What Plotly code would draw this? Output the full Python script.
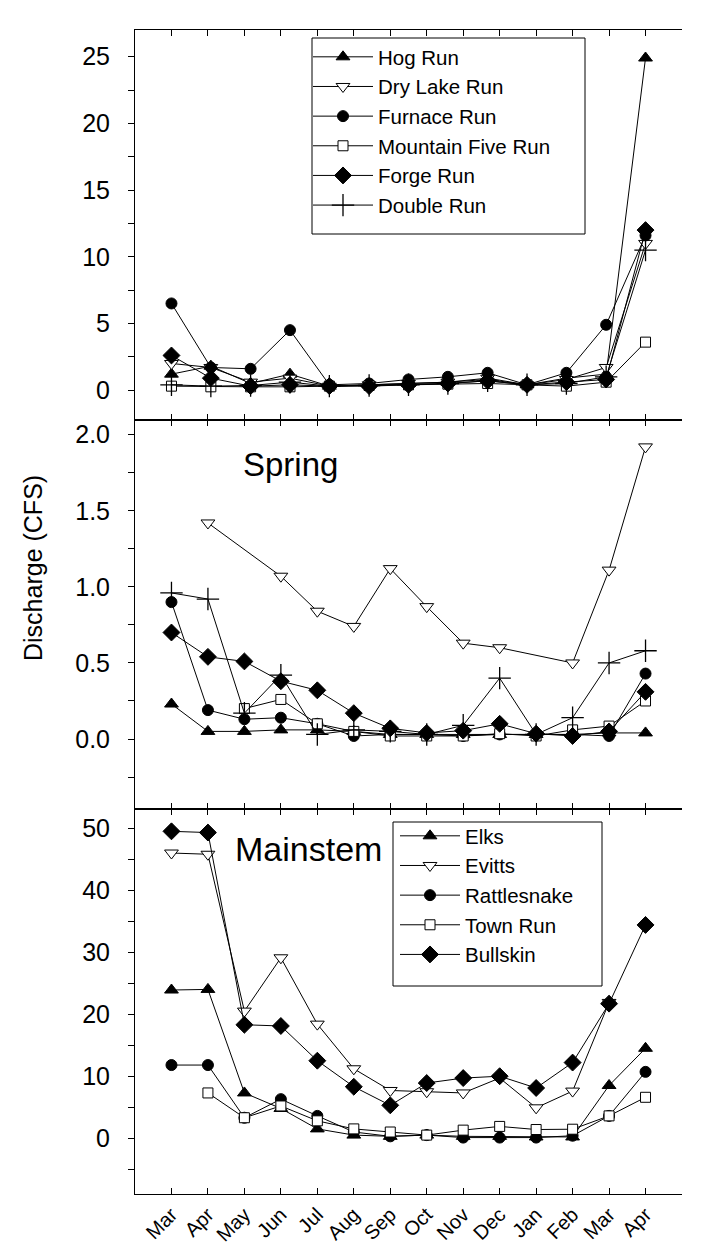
import plotly.graph_objects as go

# ---------------- data ----------------
months = ["Mar", "Apr", "May", "Jun", "Jul", "Aug", "Sep", "Oct", "Nov", "Dec", "Jan", "Feb", "Mar", "Apr"]
month_x = list(range(1, 15))

# tributary runs (top panel) sample positions (month index)
trib_x = [1.0, 2.08, 3.17, 4.25, 5.33, 6.42, 7.5, 8.58, 9.67, 10.75, 11.83, 12.92, 14.0]
hog_run = [1.2, 1.8, 0.5, 1.2, 0.3, 0.4, 0.5, 0.6, 0.8, 0.4, 0.9, 1.2, 24.9]
dry_lake_run = [2.0, 1.7, 0.6, 0.9, 0.3, 0.4, 0.5, 0.6, 0.9, 0.4, 0.8, 1.7, 11.0]
furnace_run = [6.5, 1.7, 1.6, 4.5, 0.4, 0.5, 0.8, 1.0, 1.3, 0.4, 1.3, 4.9, 11.6]
mountain_five_run = [0.3, 0.25, 0.25, 0.25, 0.3, 0.35, 0.4, 0.45, 0.5, 0.4, 0.3, 0.6, 3.6]
forge_run = [2.6, 0.9, 0.3, 0.4, 0.3, 0.3, 0.4, 0.5, 0.7, 0.4, 0.6, 0.8, 12.0]
double_run = [0.4, 0.3, 0.35, 0.6, 0.3, 0.35, 0.4, 0.5, 0.7, 0.4, 0.5, 1.0, 10.5]

# springs (middle panel)
spring_hog = [0.23, 0.05, 0.05, 0.06, 0.06, 0.05, 0.03, 0.03, 0.03, 0.03, 0.03, 0.03, 0.04, 0.04]
spring_dry_lake = [None, 1.42, None, 1.07, 0.84, 0.74, 1.12, 0.87, 0.63, 0.60, None, 0.50, 1.11, 1.92]
spring_furnace = [0.90, 0.19, 0.13, 0.14, 0.10, 0.02, 0.03, 0.03, 0.02, 0.03, 0.03, 0.03, 0.02, 0.43]
spring_mountain_five = [None, None, 0.20, 0.26, 0.10, 0.05, 0.02, 0.02, 0.02, 0.035, 0.02, 0.06, 0.085, 0.25]
spring_forge = [0.70, 0.54, 0.51, 0.38, 0.32, 0.17, 0.07, 0.04, 0.055, 0.10, 0.035, 0.02, 0.05, 0.31]
spring_double = [0.96, 0.92, 0.17, 0.42, 0.03, 0.06, 0.05, 0.03, 0.09, 0.40, 0.03, 0.14, 0.50, 0.58]

# mainstem (bottom panel)
elks = [23.9, 24.0, 7.3, 4.8, 1.5, 0.5, 0.3, 0.5, 0.3, 0.3, 0.2, 0.2, 8.5, 14.5]
evitts = [46.0, 45.8, 20.5, 29.1, 18.4, 11.2, 7.7, 7.5, 7.3, 9.7, 4.9, 7.6, 21.9, None]
rattlesnake = [11.8, 11.8, 3.3, 6.3, 3.6, 1.0, 0.3, 0.5, 0.1, 0.1, 0.1, 0.4, 3.6, 10.7]
town_run = [None, 7.3, 3.3, 5.2, 2.8, 1.5, 1.0, 0.5, 1.3, 1.9, 1.4, 1.45, 3.6, 6.6]
bullskin = [49.5, 49.3, 18.3, 18.1, 12.5, 8.3, 5.3, 8.9, 9.7, 10.0, 8.1, 12.2, 21.7, 34.4]

# ---------------- geometry helpers (pixel -> paper) ----------------
W, H = 701, 1258
ML, MR, MT, MB = 127, 27, 22, 72
PW, PH = W - ML - MR, H - MT - MB


def px(xp):
    return (xp - ML) / PW


def py(yp):
    return (H - MB - yp) / PH


# ---------------- styles ----------------
FONT = "Liberation Sans, Arial, sans-serif"
SYM = {
    "tri": dict(symbol="triangle-up", size=12, color="black"),
    "itri": dict(symbol="triangle-down", size=12, color="white"),
    "circ": dict(symbol="circle", size=11, color="black"),
    "sq": dict(symbol="square", size=10, color="white"),
    "dia": dict(symbol="diamond", size=13, color="black"),
    "cross": dict(symbol="cross-thin", size=16, color="black"),
}

fig = go.Figure()


def add(x, y, name, sym, xa, ya, legend=None):
    m = dict(SYM[sym])
    m["line"] = dict(color="black", width=1.3 if sym == "cross" else 1)
    fig.add_trace(go.Scatter(
        x=x, y=y, name=name, mode="lines+markers", connectgaps=True,
        line=dict(color="black", width=1), marker=m,
        xaxis=xa, yaxis=ya,
        showlegend=legend is not None, legend=legend or "legend",
    ))


top = [("Hog Run", hog_run, "tri"), ("Dry Lake Run", dry_lake_run, "itri"),
       ("Furnace Run", furnace_run, "circ"), ("Mountain Five Run", mountain_five_run, "sq"),
       ("Forge Run", forge_run, "dia"), ("Double Run", double_run, "cross")]
for name, y, s in top:
    add(trib_x, y, name, s, "x", "y", "legend")

mid = [("Hog Run", spring_hog, "tri"), ("Dry Lake Run", spring_dry_lake, "itri"),
       ("Furnace Run", spring_furnace, "circ"), ("Mountain Five Run", spring_mountain_five, "sq"),
       ("Forge Run", spring_forge, "dia"), ("Double Run", spring_double, "cross")]
for name, y, s in mid:
    add(month_x, y, name, s, "x2", "y2", None)

bot = [("Elks", elks, "tri"), ("Evitts", evitts, "itri"), ("Rattlesnake", rattlesnake, "circ"),
       ("Town Run", town_run, "sq"), ("Bullskin", bullskin, "dia")]
for name, y, s in bot:
    add(month_x, y, name, s, "x3", "y3", "legend2")

# ---------------- axes ----------------
doms = {"y": [py(411.5), 1.0], "y2": [py(801), py(411.5)], "y3": [0.0, py(801)]}
yr = {"y": ([-2.2, 27.0], 5, 2.5, None),
      "y2": ([-0.46, 2.10], 0.5, 0.25, ".1f"),
      "y3": ([-9.0, 53.1], 10, 5, None)}

xbase = dict(range=[0, 15], tickmode="array", tickvals=list(range(0, 16)),
             ticks="inside", ticklen=6, tickcolor="black", showline=True, linecolor="black",
             linewidth=1, mirror="ticks", showgrid=False, zeroline=False)
lay = {}
for xa, ya in [("xaxis", "y"), ("xaxis2", "y2"), ("xaxis3", "y3")]:
    d = dict(xbase)
    d["anchor"] = ya
    if xa == "xaxis3":
        d["ticktext"] = [""] + months + [""]
        d["tickangle"] = -45
        d["tickfont"] = dict(family=FONT, size=20, color="black")
    else:
        d["showticklabels"] = False
        d["matches"] = "x3"
    lay[xa] = d

for i, ya in enumerate(["y", "y2", "y3"]):
    rng, dt, mdt, fmt = yr[ya]
    xa = ["x", "x2", "x3"][i]
    name = "yaxis" if ya == "y" else "yaxis" + ya[1:]
    d = dict(domain=doms[ya], anchor=xa, range=rng, tick0=0, dtick=dt,
             ticks="outside", ticklen=6, tickcolor="black", showline=True,
             linecolor="black", linewidth=1, showgrid=False, zeroline=False,
             ticklabelstandoff=13,
             tickfont=dict(family=FONT, size=25, color="black"),
             minor=dict(ticks="outside", dtick=mdt, tick0=0, ticklen=6, tickcolor="black"))
    if fmt:
        d["tickformat"] = fmt
    lay[name] = d
    # right-hand frame with inside ticks
    rname = "yaxis" + str(i + 4)
    lay[rname] = dict(overlaying=ya, side="right", anchor=xa, range=rng, tick0=0, dtick=dt,
                      ticks="inside", ticklen=6, tickcolor="black", showline=True,
                      linecolor="black", linewidth=1, showgrid=False, zeroline=False,
                      showticklabels=False,
                      minor=dict(ticks="inside", dtick=mdt, tick0=0, ticklen=6, tickcolor="black"))

legend_common = dict(bgcolor="rgba(0,0,0,0)", borderwidth=0,
                     font=dict(family=FONT, size=20.5, color="black"),
                     xanchor="left", yanchor="top", tracegroupgap=0, itemwidth=60)

# legend frames (drawn as rectangles)
shapes = [
    dict(type="rect", xref="paper", yref="paper", x0=px(304), x1=px(577), y0=py(226), y1=py(30),
         line=dict(color="black", width=1), fillcolor="white", layer="below"),
    dict(type="rect", xref="paper", yref="paper", x0=px(385), x1=px(594), y0=py(978), y1=py(814),
         line=dict(color="black", width=1), fillcolor="white", layer="below"),
]

fig.update_layout(
    width=W, height=H,
    margin=dict(l=ML, r=MR, t=MT, b=MB),
    paper_bgcolor="white", plot_bgcolor="white",
    font=dict(family=FONT, color="black"),
    legend=dict(legend_common, x=px(300), y=py(29)),
    legend2=dict(legend_common, x=px(387), y=py(808)),
    shapes=shapes,
    annotations=[
        dict(text="Spring", x=px(282), y=py(456), xref="paper", yref="paper", showarrow=False,
             xanchor="center", yanchor="middle",
             font=dict(family=FONT, size=33, color="black")),
        dict(text="Mainstem", x=px(300), y=py(841), xref="paper", yref="paper", showarrow=False,
             xanchor="center", yanchor="middle",
             font=dict(family=FONT, size=34, color="black")),
        dict(text="Discharge (CFS)", x=px(25), y=py(560), xref="paper", yref="paper",
             xanchor="center", yanchor="middle",
             showarrow=False, textangle=-90, font=dict(family=FONT, size=25, color="black")),
    ],
    **lay,
)

fig.write_html("out.html")
